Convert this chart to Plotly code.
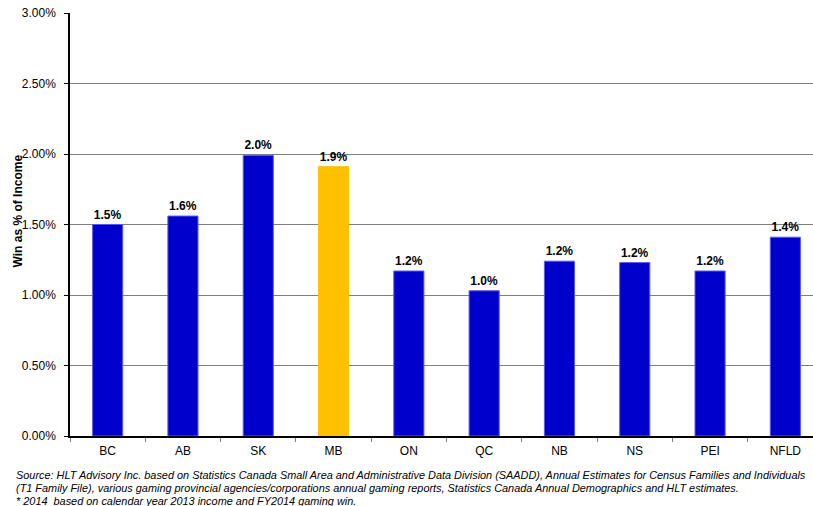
import plotly.graph_objects as go

# Gaming win as a share of income, by province (fractions)
provinces = ["BC", "AB", "SK", "MB", "ON", "QC", "NB", "NS", "PEI", "NFLD"]
win_share = [0.0150, 0.0156, 0.0199, 0.0191, 0.0117, 0.0103, 0.0124, 0.0123, 0.0117, 0.0141]
highlight = "MB"

y_ticks = [0, 0.005, 0.01, 0.015, 0.02, 0.025, 0.03]
y_title = "Win as % of Income"

footnote_lines = [
    "Source: HLT Advisory Inc. based on Statistics Canada Small Area and Administrative Data Division (SAADD), Annual Estimates for Census Families and Individuals",
    "(T1 Family File), various gaming provincial agencies/corporations annual gaming reports, Statistics Canada Annual Demographics and HLT estimates.",
    "* 2014  based on calendar year 2013 income and FY2014 gaming win.",
]

BLUE = "#0000CC"
GOLD = "#FFC000"
FONT = "Arial, Liberation Sans, sans-serif"

colors = [GOLD if p == highlight else BLUE for p in provinces]
edge = ["#FFC000" if p == highlight else "#5A5AF0" for p in provinces]

fig = go.Figure(
    go.Bar(
        x=provinces,
        y=win_share,
        width=0.4,
        marker=dict(color=colors, line=dict(color=edge, width=1)),
        texttemplate="%{y:.1%}",
        textposition="outside",
        cliponaxis=False,
        textfont=dict(family=FONT, size=12, color="#000000", weight="bold"),
        hoverinfo="skip",
    )
)

fig.update_layout(
    width=813,
    height=506,
    margin=dict(l=70, r=0, t=13, b=70),
    paper_bgcolor="white",
    plot_bgcolor="white",
    showlegend=False,
    font=dict(family=FONT, size=12, color="#000000"),
    bargap=0.6,
)

fig.update_xaxes(
    type="category",
    range=[-0.5, 9.367],
    showline=True,
    linecolor="#000000",
    linewidth=1.5,
    ticks="outside",
    tickson="boundaries",
    ticklen=4,
    tickcolor="#808080",
    ticklabelstandoff=3,
    showgrid=False,
    tickfont=dict(family=FONT, size=12, color="#000000"),
)

fig.update_yaxes(
    range=[0, 0.03],
    tickvals=y_ticks,
    tickformat=".2%",
    showline=True,
    linecolor="#000000",
    linewidth=1.5,
    ticks="outside",
    ticklen=4,
    tickcolor="#000000",
    ticklabelstandoff=6,
    showgrid=True,
    gridcolor="#7F7F7F",
    gridwidth=1,
    zeroline=False,
    tickfont=dict(family=FONT, size=12, color="#000000"),
)

PLOT_W, PLOT_H = 743, 423

# Vertical axis title
fig.add_annotation(
    xref="paper", yref="paper",
    x=(18 - 70) / PLOT_W, y=(436 - 211.5) / PLOT_H,
    xanchor="center", yanchor="middle",
    textangle=-90,
    showarrow=False,
    text=f"<b>{y_title}</b>",
    font=dict(family=FONT, size=12, color="#000000"),
)

# Source notes below the plot, one annotation per line
for i, line in enumerate(footnote_lines):
    fig.add_annotation(
        xref="paper", yref="paper",
        x=-56 / PLOT_W, y=-(39 + 13 * i) / PLOT_H,
        xanchor="left", yanchor="middle",
        align="left",
        showarrow=False,
        text=f"<i>{line}</i>",
        font=dict(family=FONT, size=10.9, color="#000000"),
    )

fig.write_html("out.html")
